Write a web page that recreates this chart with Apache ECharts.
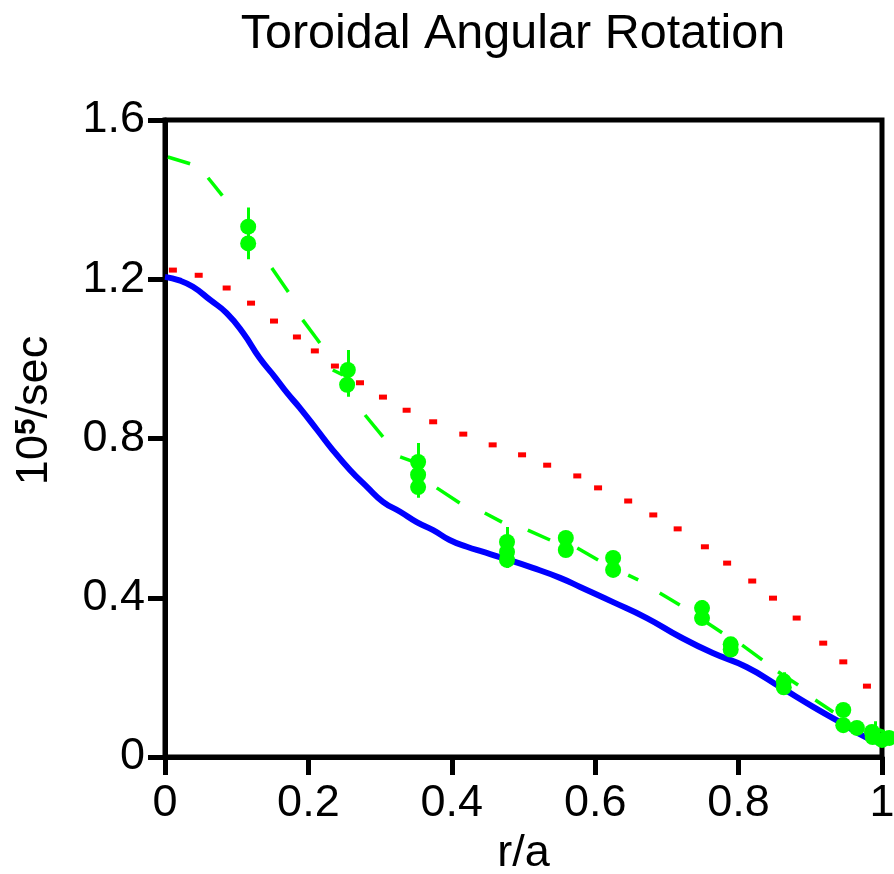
<!DOCTYPE html>
<html><head><meta charset="utf-8">
<script src="https://cdn.jsdelivr.net/npm/echarts@6/dist/echarts.min.js"></script>
<style>html,body{margin:0;padding:0;background:#fff}#c{width:894px;height:874px}</style>
</head><body><div id="c"></div>
<script>
// Blue solid curve: [r/a, value]
const blueCurve = [[0,1.206],[0.02,1.197],[0.039,1.181],[0.063,1.148],[0.086,1.115],[0.109,1.065],[0.132,1.002],[0.153,0.955],[0.17,0.915],[0.188,0.877],[0.212,0.822],[0.234,0.771],[0.258,0.721],[0.282,0.678],[0.304,0.641],[0.328,0.616],[0.351,0.590],[0.374,0.570],[0.397,0.545],[0.421,0.528],[0.444,0.515],[0.467,0.502],[0.513,0.475],[0.551,0.450],[0.579,0.427],[0.625,0.389],[0.672,0.349],[0.718,0.302],[0.764,0.261],[0.811,0.226],[0.858,0.176],[0.904,0.126],[0.941,0.088],[0.979,0.048],[1.0,0.035]];
// Red dotted profile points
const redPoints = [[0.011,1.223],[0.047,1.21],[0.086,1.178],[0.12,1.14],[0.152,1.095],[0.184,1.055],[0.209,1.02],[0.237,0.982],[0.272,0.94],[0.304,0.904],[0.337,0.871],[0.374,0.842],[0.416,0.811],[0.457,0.784],[0.498,0.759],[0.533,0.733],[0.575,0.706],[0.604,0.676],[0.646,0.643],[0.681,0.608],[0.715,0.573],[0.753,0.528],[0.784,0.487],[0.819,0.442],[0.848,0.399],[0.881,0.349],[0.918,0.286],[0.946,0.239],[0.979,0.178]];
// Green dashed profile segments: [x1,y1,x2,y2]
const greenSegments = [[0.004,1.507,0.035,1.49],[0.06,1.455,0.08,1.41],[0.149,1.228,0.172,1.168],[0.192,1.098,0.216,1.04],[0.234,0.972,0.248,0.96],[0.279,0.859,0.304,0.804],[0.328,0.754,0.351,0.739],[0.379,0.676,0.411,0.638],[0.446,0.613,0.47,0.59],[0.506,0.570,0.537,0.545],[0.575,0.525,0.604,0.495],[0.646,0.457,0.66,0.445],[0.69,0.412,0.718,0.382],[0.756,0.337,0.777,0.312],[0.805,0.281,0.833,0.244],[0.855,0.214,0.883,0.181],[0.907,0.143,0.932,0.113],[0.985,0.075,1.01,0.06]];
// Green measured points
const greenDots = [[0.116,1.332],[0.116,1.29],[0.255,0.972],[0.254,0.935],[0.353,0.741],[0.353,0.709],[0.353,0.678],[0.477,0.54],[0.477,0.515],[0.477,0.495],[0.559,0.55],[0.559,0.52],[0.625,0.5],[0.625,0.47],[0.749,0.374],[0.749,0.349],[0.789,0.283],[0.789,0.27],[0.863,0.19],[0.863,0.175],[0.946,0.118],[0.946,0.08],[0.965,0.073],[0.986,0.063],[0.987,0.05],[1.0,0.043],[1.01,0.048]];
// Error bars: [x, low, high]
const greenErrors = [[0.116,1.25,1.38],[0.255,0.905,1.022],[0.353,0.651,0.789],[0.477,0.475,0.578],[0.749,0.34,0.394],[0.863,0.17,0.213],[0.99,0.04,0.09]];
const xTicks = [0,0.2,0.4,0.6,0.8,1];
const yTicks = [0,0.4,0.8,1.2,1.6];

const FONT = "'Liberation Sans', Arial, sans-serif";
const chart = echarts.init(document.getElementById('c'));
chart.setOption({
  animation: false,
  backgroundColor: '#fff',
  title: {text: 'Toroidal Angular Rotation', left: 508, textAlign: 'center', top: 5,
    textStyle: {fontFamily: FONT, fontSize: 48.5, fontWeight: 'normal', color: '#000'}},
  grid: {left: 165, right: 12, top: 120, bottom: 117, outerBoundsMode: 'none', containLabel: false,
    show: true, borderColor: '#000', borderWidth: 5, backgroundColor: 'transparent'},
  xAxis: {type: 'value', min: xTicks[0], max: xTicks[xTicks.length-1], interval: 0.2,
    name: 'r/a', nameLocation: 'middle', nameGap: 45,
    nameTextStyle: {fontFamily: FONT, fontSize: 45, color: '#000'},
    axisLine: {lineStyle: {color: '#000', width: 5}},
    axisTick: {length: 18, lineStyle: {color: '#000', width: 5}},
    axisLabel: {fontFamily: FONT, fontSize: 45, color: '#000', margin: 24},
    splitLine: {show: false}},
  yAxis: {type: 'value', min: yTicks[0], max: yTicks[yTicks.length-1], interval: 0.4,
    name: '10{s|5}/sec', nameLocation: 'middle', nameGap: 108,
    nameTextStyle: {fontFamily: FONT, fontSize: 45, color: '#000', padding: [0,0,0,56],
      rich: {s: {fontFamily: FONT, fontSize: 30, fontWeight: 'bold', color: '#000', verticalAlign: 'top', padding: [0,0,14,0]}}},
    axisLine: {lineStyle: {color: '#000', width: 5}},
    axisTick: {length: 17, lineStyle: {color: '#000', width: 5}},
    axisLabel: {fontFamily: FONT, fontSize: 45, color: '#000', margin: 20},
    splitLine: {show: false}},
  series: [
    {type: 'scatter', data: redPoints, symbol: 'rect', symbolSize: [8,5], itemStyle: {color: '#ff0000', opacity: 1}, silent: true, z: 2},
    {type: 'lines', coordinateSystem: 'cartesian2d', polyline: false,
      data: greenSegments.map(s => ({coords: [[s[0], s[1]], [s[2], s[3]]]})),
      lineStyle: {color: '#00ff00', width: 3.5, opacity: 1}, silent: true, z: 3},
    {type: 'line', data: blueCurve, showSymbol: false, smooth: true, lineStyle: {color: '#0000ff', width: 6}, silent: true, z: 4},
    {type: 'lines', coordinateSystem: 'cartesian2d',
      data: greenErrors.map(e => ({coords: [[e[0], e[1]], [e[0], e[2]]]})),
      lineStyle: {color: '#00ff00', width: 3, opacity: 1}, silent: true, z: 5},
    {type: 'scatter', data: greenDots, symbol: 'circle', symbolSize: 16, clip: false, itemStyle: {color: '#00ff00', opacity: 1}, silent: true, z: 6}
  ]
});
</script></body></html>
